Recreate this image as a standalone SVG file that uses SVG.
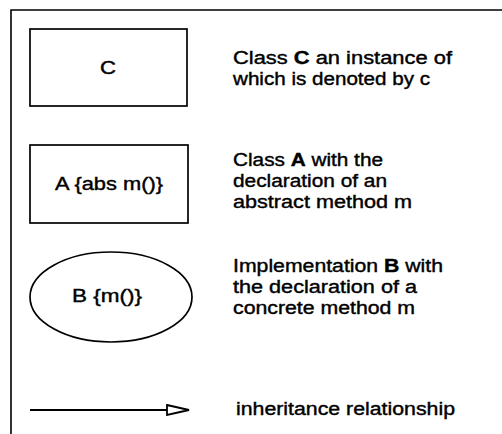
<svg xmlns="http://www.w3.org/2000/svg" width="502" height="434" viewBox="0 0 502 434">
  <defs>
    <style>
      .frame { fill: none; stroke: #000; stroke-width: 1.6; }
      .node { fill: #fff; stroke: #000; stroke-width: 1.7; }
      .lbl { font-family: "Liberation Sans", Arial, sans-serif; font-size: 18px; fill: #000; stroke: #000; stroke-width: 0.4; }
      .mid { text-anchor: middle; }
      .edge { fill: none; stroke: #000; stroke-width: 2; }
      .b { font-weight: bold; }
    </style>
    <marker id="open-tri" viewBox="0 0 24 12" refX="23" refY="6" markerUnits="userSpaceOnUse" markerWidth="24" markerHeight="12" orient="auto">
      <path d="M1,1 L23,6 L1,11 Z" fill="#fff" stroke="#000" stroke-width="1.8"/>
    </marker>
  </defs>

  <rect width="502" height="434" fill="#fff"/>

  <!-- legend frame -->
  <path class="frame" d="M11,434 V10 H502"/>

  <!-- class C -->
  <g id="class-c">
    <rect class="node" x="30" y="29" width="157" height="77"/>
    <text class="lbl mid" x="108" y="74" textLength="16" lengthAdjust="spacingAndGlyphs">C</text>
    <text class="lbl" x="233" y="64" textLength="219" lengthAdjust="spacingAndGlyphs">Class <tspan class="b">C</tspan> an instance of</text>
    <text class="lbl" x="233" y="85" textLength="197" lengthAdjust="spacingAndGlyphs">which is denoted by c</text>
  </g>

  <!-- abstract class A -->
  <g id="class-a">
    <rect class="node" x="30" y="145" width="158" height="78"/>
    <text class="lbl mid" x="109" y="190" textLength="108" lengthAdjust="spacingAndGlyphs">A {abs m()}</text>
    <text class="lbl" x="233" y="166" textLength="150" lengthAdjust="spacingAndGlyphs">Class <tspan class="b">A</tspan> with the</text>
    <text class="lbl" x="233" y="187" textLength="154" lengthAdjust="spacingAndGlyphs">declaration of an</text>
    <text class="lbl" x="233" y="208" textLength="179" lengthAdjust="spacingAndGlyphs">abstract method m</text>
  </g>

  <!-- implementation B -->
  <g id="impl-b">
    <ellipse class="node" cx="111" cy="297" rx="81" ry="45"/>
    <text class="lbl mid" x="107" y="302" textLength="70" lengthAdjust="spacingAndGlyphs">B {m()}</text>
    <text class="lbl" x="233" y="272" textLength="210" lengthAdjust="spacingAndGlyphs">Implementation <tspan class="b">B</tspan> with</text>
    <text class="lbl" x="233" y="293" textLength="184" lengthAdjust="spacingAndGlyphs">the declaration of a</text>
    <text class="lbl" x="233" y="314" textLength="182" lengthAdjust="spacingAndGlyphs">concrete method m</text>
  </g>

  <!-- inheritance connector sample -->
  <g id="connectors">
    <line class="edge" x1="30" y1="410" x2="189" y2="410" marker-end="url(#open-tri)"/>
  </g>
  <g id="inheritance-label">
    <text class="lbl" x="236" y="415" textLength="219" lengthAdjust="spacingAndGlyphs">inheritance relationship</text>
  </g>
</svg>
